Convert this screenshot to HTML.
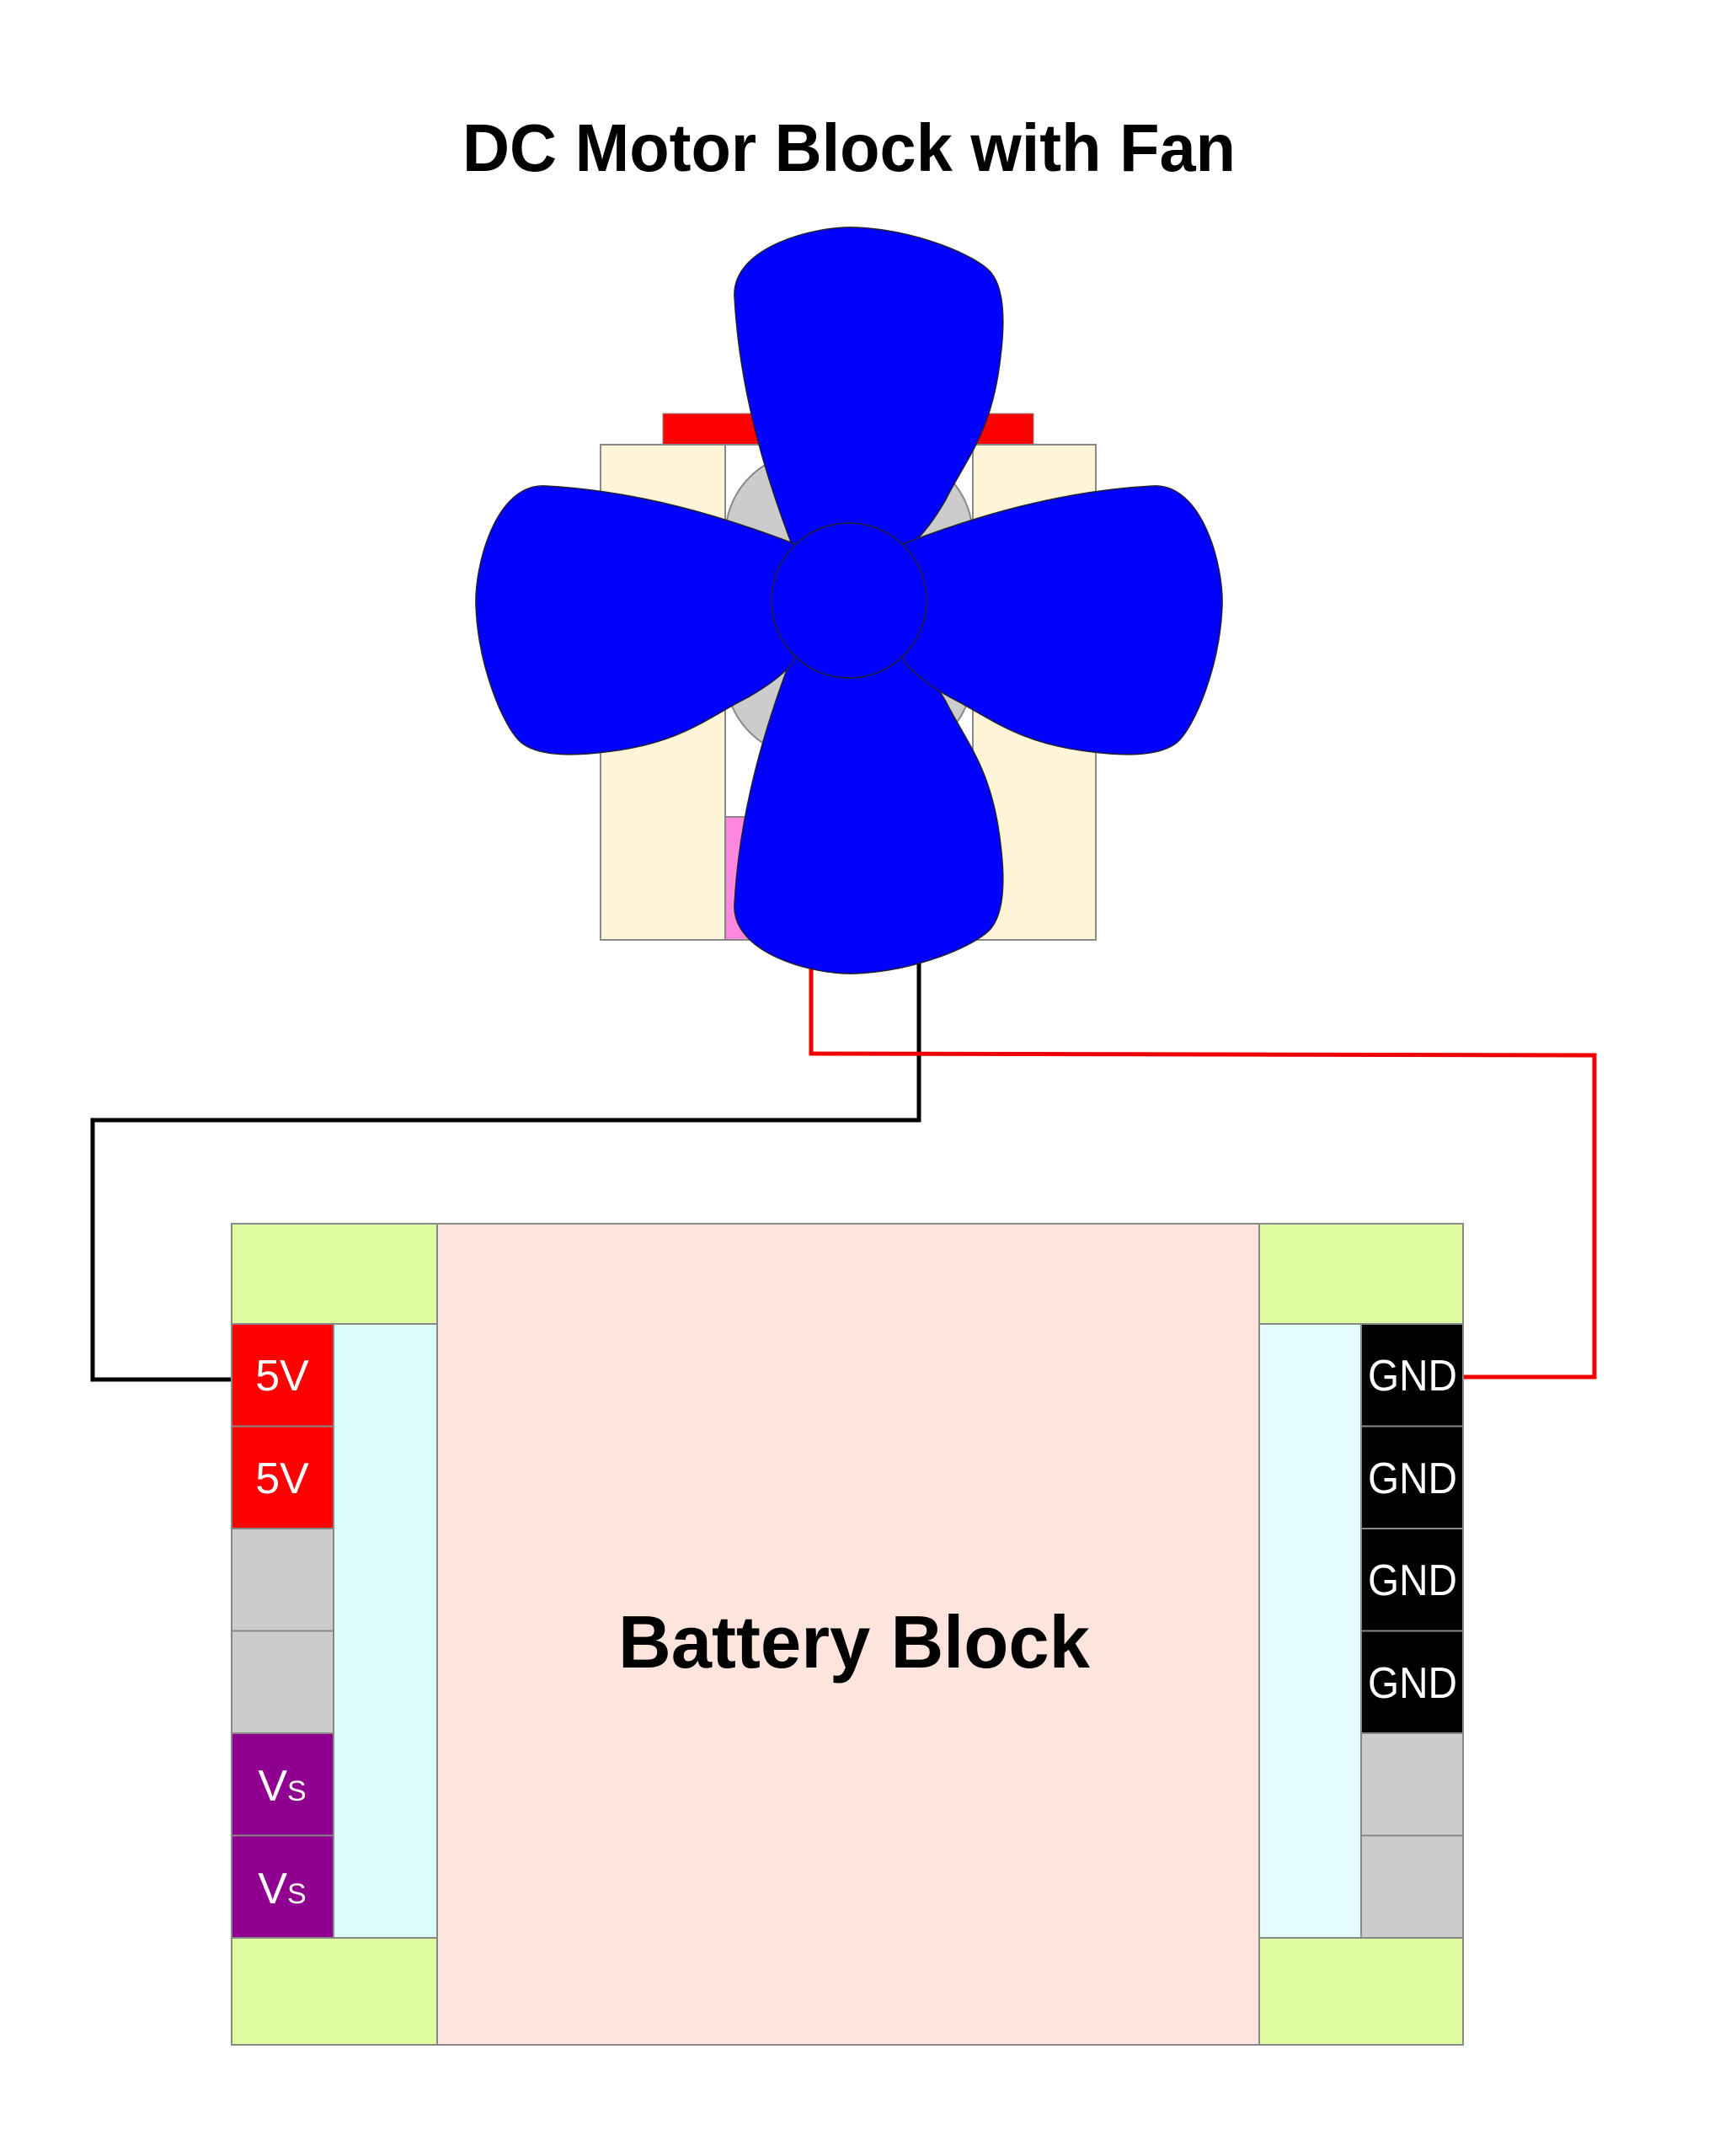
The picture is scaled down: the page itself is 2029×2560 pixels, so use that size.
<!DOCTYPE html>
<html><head><meta charset="utf-8"><style>
html,body{margin:0;padding:0;background:#fff;}
svg{display:block;}
</style></head><body>
<svg width="2029" height="2560" viewBox="0 0 2029 2560" xmlns="http://www.w3.org/2000/svg">
<defs>
<path id="bl" d="M -67,-64 C -100,-150 -130,-250 -136,-360 C -140,-420 -40,-445 7,-443 C 80,-440 150,-410 168,-390 C 185,-370 185,-330 180,-290 C 170,-200 140,-170 115,-120 C 95,-85 75,-64 67,-64 Z"/>
</defs>
<rect width="2029" height="2560" fill="#fff"/>
<text x="1008" y="203" font-family="Liberation Sans, sans-serif" font-weight="bold" font-size="80" text-anchor="middle" textLength="918" lengthAdjust="spacingAndGlyphs">DC Motor Block with Fan</text>

<!-- wires -->
<polyline points="1091,1130 1091,1330 110,1330 110,1638 275,1638" fill="none" stroke="#000" stroke-width="5"/>
<polyline points="963,1130 963,1251 1893,1253 1893,1635 1737,1635" fill="none" stroke="#e00" stroke-width="5"/>

<!-- motor -->
<rect x="787" y="491" width="440" height="37" fill="#f00" stroke="#888" stroke-width="1"/>
<rect x="713" y="528" width="148" height="588" fill="#fef5d8" stroke="#888" stroke-width="2"/>
<rect x="1155" y="528" width="146" height="588" fill="#fef5d8" stroke="#888" stroke-width="2"/>
<rect x="861" y="528" width="294" height="588" fill="#fff" stroke="#888" stroke-width="2"/>
<rect x="861" y="537" width="294" height="362" rx="100" ry="100" fill="#cccccc" stroke="#888" stroke-width="2"/>
<rect x="861" y="970" width="160" height="146" fill="#fe88e0" stroke="#888" stroke-width="2"/>

<!-- fan -->
<g transform="translate(1008,713)" fill="#0000ff" stroke="#223" stroke-width="1.5">
<use href="#bl"/>
<use href="#bl" transform="scale(1,-1)"/>
<use href="#bl" transform="matrix(0,1,1,0,0,0)"/>
<use href="#bl" transform="rotate(90)"/>
<circle cx="0" cy="0" r="92"/>
</g>

<!-- battery -->
<g stroke="#888" stroke-width="2">
<rect x="519" y="1453" width="976" height="975" fill="#fde4dc"/>
<rect x="275" y="1453" width="244" height="119" fill="#e0fca0"/>
<rect x="275" y="2301" width="244" height="127" fill="#e0fca0"/>
<rect x="1495" y="1453" width="242" height="119" fill="#e0fca0"/>
<rect x="1495" y="2301" width="242" height="127" fill="#e0fca0"/>
<rect x="396" y="1572" width="123" height="729" fill="#dcfefc"/>
<rect x="1495" y="1572" width="121" height="729" fill="#e4fcfc"/>
<rect x="275" y="1572" width="121" height="121.5" fill="#f00"/>
<rect x="275" y="1693.5" width="121" height="121.5" fill="#f00"/>
<rect x="275" y="1815" width="121" height="121.5" fill="#cccccc"/>
<rect x="275" y="1936.5" width="121" height="121.5" fill="#cccccc"/>
<rect x="275" y="2058" width="121" height="121.5" fill="#900090"/>
<rect x="275" y="2179.5" width="121" height="121.5" fill="#900090"/>
<rect x="1616" y="1572" width="121" height="121.5" fill="#000"/>
<rect x="1616" y="1693.5" width="121" height="121.5" fill="#000"/>
<rect x="1616" y="1815" width="121" height="121.5" fill="#000"/>
<rect x="1616" y="1936.5" width="121" height="121.5" fill="#000"/>
<rect x="1616" y="2058" width="121" height="121.5" fill="#cccccc"/>
<rect x="1616" y="2179.5" width="121" height="121.5" fill="#cccccc"/>
</g>
<g font-family="Liberation Sans, sans-serif" fill="#fff" text-anchor="middle" font-size="52">
<text x="335" y="1651">5V</text>
<text x="335" y="1773">5V</text>
<text x="335" y="2138">V<tspan font-size="34">S</tspan></text>
<text x="335" y="2260">V<tspan font-size="34">S</tspan></text>
<text x="1677" y="1651" textLength="106" lengthAdjust="spacingAndGlyphs">GND</text>
<text x="1677" y="1773" textLength="106" lengthAdjust="spacingAndGlyphs">GND</text>
<text x="1677" y="1894" textLength="106" lengthAdjust="spacingAndGlyphs">GND</text>
<text x="1677" y="2016" textLength="106" lengthAdjust="spacingAndGlyphs">GND</text>
</g>
<text x="1014" y="1980" font-family="Liberation Sans, sans-serif" font-weight="bold" font-size="88" text-anchor="middle" textLength="560" lengthAdjust="spacingAndGlyphs">Battery Block</text>
</svg>
</body></html>
